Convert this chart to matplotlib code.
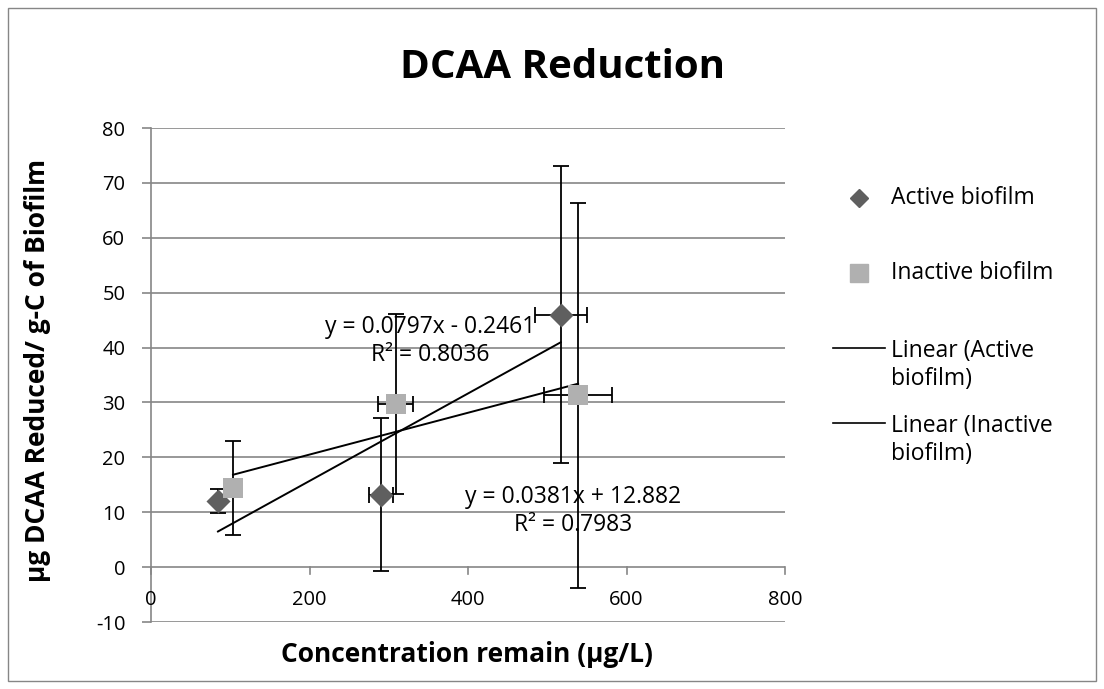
import matplotlib
matplotlib.use("Agg")
import matplotlib.pyplot as plt
import numpy as np
from matplotlib.lines import Line2D

plt.rcParams['font.family'] = ['Open Sans', 'DejaVu Sans']

# Data
active_x = [84.5, 290, 517]
active_y = [12.0, 13.2, 46.0]
active_yerr = [2.2, 13.9, 27.0]
active_xerr = [0, 15, 33]

inactive_x = [103.5, 309, 539]
inactive_y = [14.4, 29.7, 31.3]
inactive_yerr = [8.6, 16.4, 35.1]
inactive_xerr = [0, 22, 43]

active_fit = (0.0797, -0.2461)
inactive_fit = (0.0381, 12.882)
active_label = "y = 0.0797x - 0.2461\nR² = 0.8036"
inactive_label = "y = 0.0381x + 12.882\nR² = 0.7983"

xticks = [0, 200, 400, 600, 800]
yticks = [-10, 0, 10, 20, 30, 40, 50, 60, 70, 80]

FS = 16.5
TFS = 14.5
W, H = 1104, 689
fig = plt.figure(figsize=(W/100, H/100), dpi=100)
# outer border
fig.patches.append(plt.Rectangle((8/W, 8/H), 1088/W, 673/H, transform=fig.transFigure,
                                 fill=False, edgecolor='#868686', linewidth=1.0))
ax = fig.add_axes([151/W, 1-622/H, (785-151)/W, (622-128)/H])
ax.set_xlim(0, 800)
ax.set_ylim(-10, 80)

grid_c = '#868686'
for yv in yticks:
    ax.axhline(yv, color=grid_c, lw=1.2, zorder=1)
for s in ['top', 'right', 'bottom']:
    ax.spines[s].set_visible(False)
ax.spines['left'].set_color(grid_c)
ax.spines['left'].set_linewidth(1.2)

ax.set_yticks(yticks)
ax.set_yticklabels([str(v) for v in yticks], fontsize=TFS)
ax.tick_params(axis='y', length=6.5, color=grid_c, width=1.2, pad=12)
ax.set_xticks([])

# x-axis at y=0 with ticks/labels
for xv in xticks:
    ax.plot([xv, xv], [0, -1.3], color=grid_c, lw=1.2, clip_on=False, zorder=1)
    ax.text(xv, -6.0, str(xv), ha='center', va='center', fontsize=TFS)

# error bars
ekw = dict(fmt='none', ecolor='black', elinewidth=1.3, capsize=6, capthick=1.3, zorder=3)
ax.errorbar(active_x, active_y, yerr=active_yerr, xerr=active_xerr, **ekw)
ax.errorbar(inactive_x, inactive_y, yerr=inactive_yerr, xerr=inactive_xerr, **ekw)

# trendlines
ax_x = np.array([min(active_x), max(active_x)])
ax.plot(ax_x, active_fit[0]*ax_x + active_fit[1], color='black', lw=1.4, zorder=4)
in_x = np.array([min(inactive_x), max(inactive_x)])
ax.plot(in_x, inactive_fit[0]*in_x + inactive_fit[1], color='black', lw=1.4, zorder=4)

# markers
ax.scatter(active_x, active_y, marker='D', s=150, color='#5f5f5f', zorder=5, linewidths=0)
ax.scatter(inactive_x, inactive_y, marker='s', s=220, color='#b0b0b0', zorder=5, linewidths=0)

# equations
ax.text(352, 41.2, active_label, ha='center', va='center', fontsize=FS, linespacing=1.25, zorder=6)
ax.text(533, 10.2, inactive_label, ha='center', va='center', fontsize=FS, linespacing=1.25, zorder=6)

# title & labels
fig.text(562/W, 1-68/H, "DCAA Reduction", ha='center', va='center', fontsize=29, fontweight='bold')
fig.text(467/W, 1-654/H, "Concentration remain (µg/L)", ha='center', va='center', fontsize=19, fontweight='bold')
fig.text(38/W, 1-370/H, "µg DCAA Reduced/ g-C of Biofilm", ha='center', va='center', fontsize=19,
         fontweight='bold', rotation=90)

# legend
fig.add_artist(Line2D([859/W], [1-198/H], marker='D', color='#5f5f5f', markersize=9, linestyle='none',
                      transform=fig.transFigure))
fig.text(891/W, 1-198/H, "Active biofilm", va='center', fontsize=FS)
fig.add_artist(Line2D([859/W], [1-273/H], marker='s', color='#b0b0b0', markersize=13, linestyle='none',
                      transform=fig.transFigure))
fig.text(891/W, 1-273/H, "Inactive biofilm", va='center', fontsize=FS)
fig.add_artist(Line2D([833/W, 885/W], [1-348/H, 1-348/H], color='black', lw=1.2, transform=fig.transFigure))
fig.text(891/W, 1-365/H, "Linear (Active\nbiofilm)", va='center', fontsize=FS, linespacing=1.2)
fig.add_artist(Line2D([833/W, 885/W], [1-423/H, 1-423/H], color='black', lw=1.2, transform=fig.transFigure))
fig.text(891/W, 1-440/H, "Linear (Inactive\nbiofilm)", va='center', fontsize=FS, linespacing=1.2)

fig.savefig("out.png", dpi=100)
